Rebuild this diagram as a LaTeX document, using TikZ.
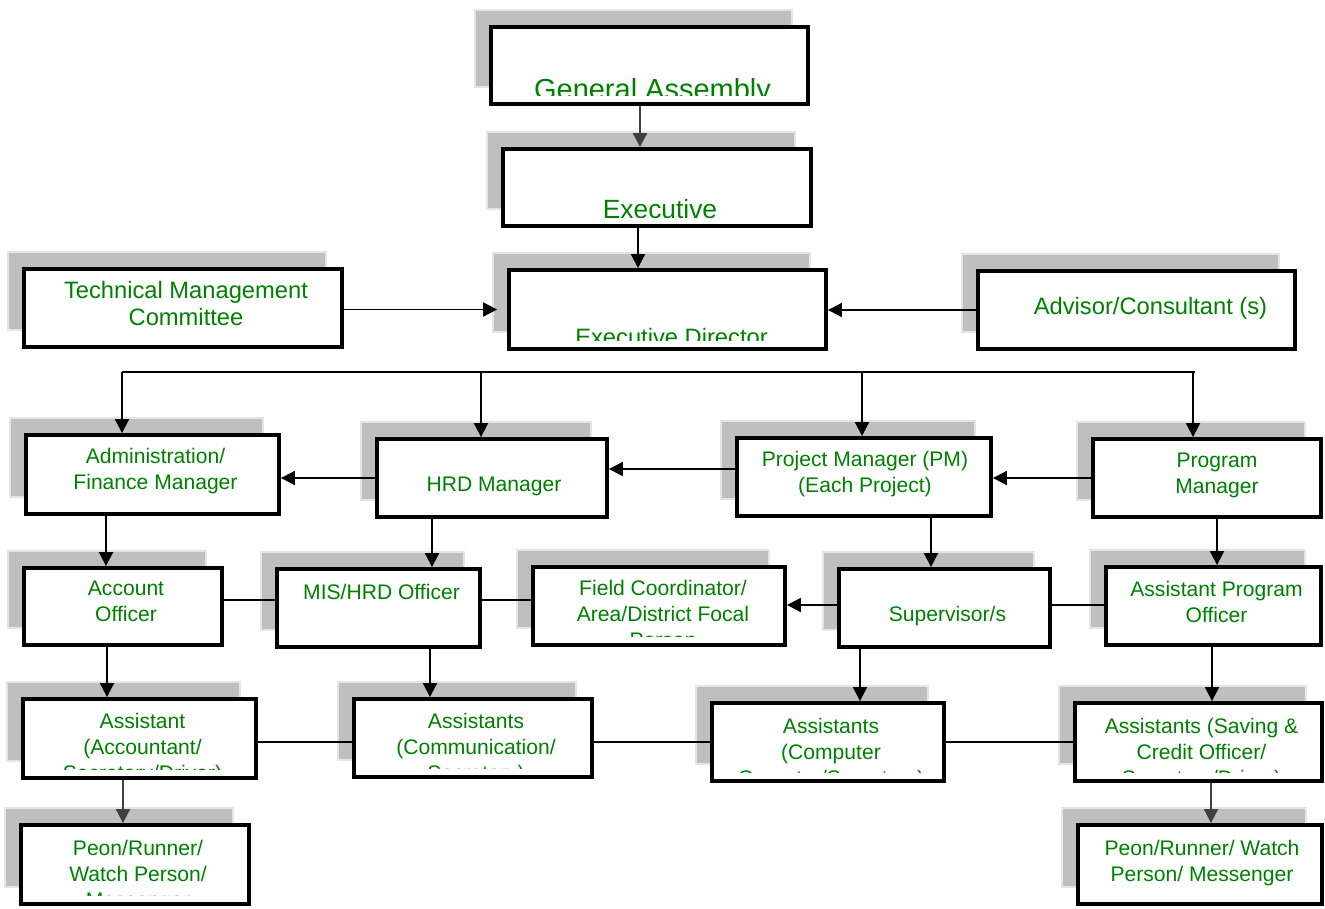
\documentclass[tikz,border=0pt]{standalone}
\usepackage{fontspec}
\setmainfont{Liberation Sans}
\usepackage{tikz}
\usetikzlibrary{fit,shadows,arrows.meta}
\definecolor{orggreen}{RGB}{0,128,0}
\newcommand{\midfont}{\fontsize{12}{14.8}\selectfont}
\newcommand{\topfont}{\fontsize{13.5}{15.5}\selectfont}
% text of a box, cut off where it runs past the bottom
\newcommand{\boxtext}[5]{%
  \begin{scope}
    \clip (#1.north west) rectangle ([yshift = 0.2cm]#1.south east);
    \node [txt, font = #4, anchor = north] (#1-t) at ([shift = {(#2, #3)}]#1.north) {#5};
  \end{scope}}

\begin{document}
\begin{tikzpicture}[x = 0.02cm, y = -0.02cm,
  box/.style = {draw, line width = 2.2pt, fill = white, inner sep = 0pt,
    general shadow = {fill = gray!50, draw = gray!20, line width = 0.8pt,
      shadow xshift = -0.32cm, shadow yshift = 0.34cm}},
  txt/.style = {inner sep = 0pt, align = center, text = orggreen},
  arr/.style = {line width = 1.1pt, -{Triangle[length = 0.28cm, width = 0.28cm]}},
  link/.style = {line width = 1.1pt}]
\useasboundingbox (0, 0) rectangle (1325, 909);
%\draw[very thin, color = gray](0, 0) grid[step = 100] (1325, 909);
% top
\node [box, fit = {(491, 27) (808, 104)}] (ga) {};
\boxtext{ga}{3}{53}{\fontsize{16.5}{19}\selectfont}{General Assembly}
\node [box, fit = {(503, 149) (811, 226)}] (exec) {};
\boxtext{exec}{3}{52}{\fontsize{15}{18}\selectfont}{Executive}
\node [box, fit = {(509, 270) (826, 349)}] (ed) {};
\boxtext{ed}{4}{60}{\topfont}{Executive Director}
\node [box, fit = {(24, 269) (342, 347)}] (tmc) {};
\boxtext{tmc}{3}{14}{\topfont}{Technical Management\\Committee}
\node [box, fit = {(978, 271) (1295, 349)}] (adv) {};
\boxtext{adv}{14}{28}{\topfont}{Advisor/Consultant (s)}
% managers
\node [box, fit = {(26, 435) (279, 514)}] (admin) {};
\boxtext{admin}{3}{15}{\midfont}{Administration/\\Finance Manager}
\node [box, fit = {(377, 439) (607, 517)}] (hrd) {};
\boxtext{hrd}{2}{40}{\midfont}{HRD Manager}
\node [box, fit = {(737, 438) (991, 516)}] (pm) {};
\boxtext{pm}{1}{15}{\midfont}{Project Manager (PM)\\(Each Project)}
\node [box, fit = {(1093, 439) (1321, 517)}] (prog) {};
\boxtext{prog}{10}{16}{\midfont}{Program\\Manager}
% officers
\node [box, fit = {(24, 568) (222, 645)}] (acc) {};
\boxtext{acc}{3}{15}{\midfont}{Account\\Officer}
\node [box, fit = {(277, 569) (480, 647)}] (mis) {};
\boxtext{mis}{3}{17}{\midfont}{MIS/HRD Officer}
\node [box, fit = {(533, 567) (785, 645)}] (field) {};
\boxtext{field}{4}{15}{\midfont}{Field Coordinator/\\Area/District Focal\\Person}
\node [box, fit = {(839, 569) (1050, 647)}] (sup) {};
\boxtext{sup}{3}{39}{\midfont}{Supervisor/s}
\node [box, fit = {(1106, 567) (1321, 645)}] (apo) {};
\boxtext{apo}{3}{16}{\midfont}{Assistant Program\\Officer}
% assistants
\node [box, fit = {(23, 699) (256, 778)}] (asst) {};
\boxtext{asst}{3}{16}{\midfont}{Assistant\\(Accountant/\\Secretary/Driver)}
\node [box, fit = {(354, 699) (592, 777)}] (comm) {};
\boxtext{comm}{3}{16}{\midfont}{Assistants\\(Communication/\\Secretary)}
\node [box, fit = {(712, 703) (944, 781)}] (comp) {};
\boxtext{comp}{3}{17}{\midfont}{Assistants\\(Computer\\Operator/Secretary)}
\node [box, fit = {(1075, 703) (1322, 781)}] (sav) {};
\boxtext{sav}{3}{17}{\midfont}{Assistants (Saving \&\\Credit Officer/\\Secretary/Driver)}
% bottom
\node [box, fit = {(21, 825) (249, 904)}] (peon1) {};
\boxtext{peon1}{3}{17}{\midfont}{Peon/Runner/\\Watch Person/\\Messenger}
\node [box, fit = {(1078, 825) (1322, 904)}] (peon2) {};
\boxtext{peon2}{2}{17}{\midfont}{Peon/Runner/ Watch\\Person/ Messenger}
% connectors
\draw [arr, draw = darkgray] (ga.south -| 640, 0) -- (exec.north -| 640, 0);
\draw [arr] (exec.south -| 638, 0) -- (ed.north -| 638, 0);
\draw [arr] (tmc.east |- ed.west) -- ([xshift = -0.2cm]ed.west);
\draw [arr] (adv.west) -- (ed.east |- adv.west);
\coordinate (bus-l) at (122, 372);
\coordinate (bus-r) at (1195, 372);
\draw [link] (bus-l) -- (bus-r);
\draw [arr] (bus-l) -- (admin.north -| bus-l);
\draw [arr] (bus-l -| 481, 0) -- (hrd.north -| 481, 0);
\draw [arr] (bus-l -| 862, 0) -- (pm.north -| 862, 0);
\draw [arr] (bus-r -| 1193, 0) -- (prog.north -| 1193, 0);
\draw [arr] (hrd.west |- 0, 478) -- (admin.east |- 0, 478);
\draw [arr] (pm.west |- 0, 469) -- (hrd.east |- 0, 469);
\draw [arr] (prog.west |- 0, 478) -- (pm.east |- 0, 478);
\draw [arr] (admin.south -| 106, 0) -- (acc.north -| 106, 0);
\draw [arr] (hrd.south -| 432, 0) -- (mis.north -| 432, 0);
\draw [arr] (pm.south -| 931, 0) -- (sup.north -| 931, 0);
\draw [arr] (prog.south -| 1217, 0) -- (apo.north -| 1217, 0);
\draw [link] (acc.east |- 0, 600) -- (mis.west |- 0, 600);
\draw [link] (mis.east |- 0, 600) -- (field.west |- 0, 600);
\draw [arr] (sup.west |- 0, 605) -- (field.east |- 0, 605);
\draw [link] (sup.east |- 0, 605) -- (apo.west |- 0, 605);
\draw [arr] (acc.south -| 107, 0) -- (asst.north -| 107, 0);
\draw [arr] (mis.south -| 430, 0) -- (comm.north -| 430, 0);
\draw [arr] (sup.south -| 860, 0) -- (comp.north -| 860, 0);
\draw [arr] (apo.south -| 1212, 0) -- (sav.north -| 1212, 0);
\draw [link] (asst.east |- 0, 742) -- (comm.west |- 0, 742);
\draw [link] (comm.east |- 0, 742) -- (comp.west |- 0, 742);
\draw [link] (comp.east |- 0, 742) -- (sav.west |- 0, 742);
\draw [arr, draw = darkgray] (asst.south -| 123, 0) -- (peon1.north -| 123, 0);
\draw [arr, draw = darkgray] (sav.south -| 1211, 0) -- (peon2.north -| 1211, 0);
\end{tikzpicture}
\end{document}
